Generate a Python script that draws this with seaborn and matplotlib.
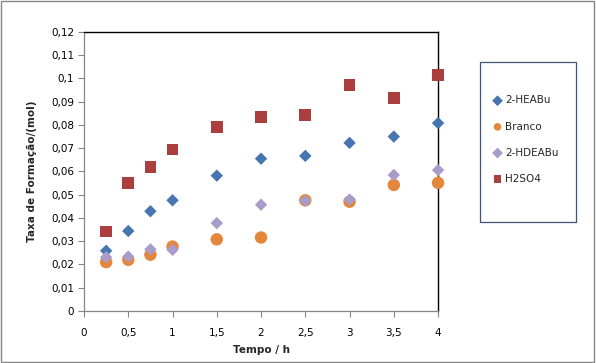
import pandas as pd
import matplotlib
matplotlib.use("Agg")
import matplotlib.pyplot as plt
import seaborn as sns
from matplotlib.patches import Rectangle
from matplotlib.ticker import FuncFormatter, MultipleLocator

# Data
tempo = [0.25, 0.5, 0.75, 1, 1.5, 2, 2.5, 3, 3.5, 4]
heabu = [0.0259, 0.0344, 0.0429, 0.0476, 0.0582, 0.0655, 0.0667, 0.0723, 0.0750, 0.0808]
branco = [0.0210, 0.0220, 0.0242, 0.0277, 0.0308, 0.0316, 0.0476, 0.0470, 0.0542, 0.0551]
hdeabu = [0.0231, 0.0234, 0.0265, 0.0263, 0.0378, 0.0457, 0.0474, 0.0479, 0.0585, 0.0606]
h2so4 = [0.0341, 0.0550, 0.0619, 0.0694, 0.0792, 0.0833, 0.0844, 0.0972, 0.0917, 0.1016]

series = ["2-HEABu", "Branco", "2-HDEABu", "H2SO4"]
values = [heabu, branco, hdeabu, h2so4]

df = pd.concat([pd.DataFrame({"Tempo": tempo, "Taxa": v, "Serie": s})
                for s, v in zip(series, values)], ignore_index=True)

colors = {"2-HEABu": "#4675B0", "Branco": "#E4873B", "2-HDEABu": "#A99CC8", "H2SO4": "#AA3F3D"}
markers = {"2-HEABu": "D", "Branco": "o", "2-HDEABu": "D", "H2SO4": "s"}
sizes = {"2-HEABu": 40, "Branco": 80, "2-HDEABu": 40, "H2SO4": 70}

sns.set_theme(style="white")
plt.rcParams["font.family"] = ["DejaVu Sans"]

fig = plt.figure(figsize=(5.96, 3.63), dpi=100)
ax = fig.add_axes([0.141, 0.1433, 0.594, 0.7687])

for s in series:
    sns.scatterplot(data=df[df["Serie"] == s], x="Tempo", y="Taxa", ax=ax,
                    color=colors[s], marker=markers[s], s=sizes[s],
                    edgecolor="none", label=s, clip_on=False, zorder=3)

ax.set_xlim(0, 4)
ax.set_ylim(0, 0.12)
ax.xaxis.set_major_locator(MultipleLocator(0.5))
ax.yaxis.set_major_locator(MultipleLocator(0.01))

def virgula(v, pos):
    txt = f"{v:.2f}".rstrip("0").rstrip(".")
    return txt.replace(".", ",")

ax.xaxis.set_major_formatter(FuncFormatter(virgula))
ax.yaxis.set_major_formatter(FuncFormatter(virgula))

ax.tick_params(axis="both", which="major", direction="out", length=4, width=0.8,
               color="#868686", labelsize=7.5, labelcolor="black", pad=3)
ax.tick_params(axis="x", pad=8, bottom=True)
ax.tick_params(axis="y", left=True)

for side in ["left", "bottom"]:
    ax.spines[side].set_color("#868686")
    ax.spines[side].set_linewidth(0.9)
for side in ["top", "right"]:
    ax.spines[side].set_color("black")
    ax.spines[side].set_linewidth(1.0)

ax.set_xlabel("Tempo / h", fontsize=7.5, fontweight="bold", labelpad=5)
ax.set_ylabel("Taxa de Formação/(mol)", fontsize=7.5, fontweight="bold", labelpad=10)

# legend without frame, box drawn separately to match the tall Excel-style frame
leg = ax.legend(loc="upper left", bbox_to_anchor=(0.826, 0.737), bbox_transform=fig.transFigure,
                fontsize=7.5, frameon=False, borderpad=0,
                labelspacing=1.55, handletextpad=0.2, handlelength=1.0, borderaxespad=0)
for h in leg.legend_handles:
    h.set_sizes([30])

fig.patches.append(Rectangle((0.8054, 0.3884), 0.161, 0.4408, transform=fig.transFigure,
                             fill=False, edgecolor="#3E5474", linewidth=0.9))
fig.patches.append(Rectangle((0.002, 0.003), 0.995, 0.994, transform=fig.transFigure,
                             fill=False, edgecolor="#868686", linewidth=1.0))

fig.savefig("out.png", dpi=100)
